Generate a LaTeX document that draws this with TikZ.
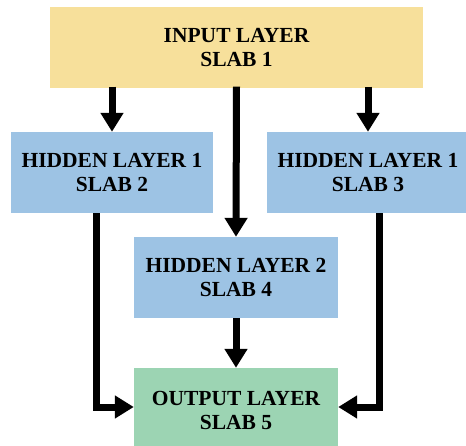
\documentclass[tikz,border=0pt]{standalone}
\usepackage{fontspec}
\setmainfont{Liberation Serif}
\usepackage{xcolor}
\usepackage{tikz}
\usetikzlibrary{arrows.meta,positioning}

\definecolor{slabyellow}{HTML}{F7E09B}
\definecolor{slabblue}{HTML}{9DC3E4}
\definecolor{slabgreen}{HTML}{9CD4B3}

\tikzset{
  slab/.style={minimum height=81pt, inner sep=0pt, align=center,
    font=\bfseries\fontsize{21.5}{24}\selectfont},
  link/.style={line width=7pt, -{Triangle[width=22pt,length=19pt]}}
}

\begin{document}
\begin{tikzpicture}[x=1pt,y=-1pt]
\useasboundingbox (0, 0) rectangle (466, 446);
\node[slab, fill=slabyellow, minimum width=373pt] (input) at (236.5, 48) {INPUT LAYER\\SLAB 1};
\node[slab, fill=slabblue, minimum width=202pt] (hidA) at (112, 172.5) {HIDDEN LAYER 1\\SLAB 2};
\node[slab, fill=slabblue, minimum width=202pt] (hidB) at (368, 172.5) {HIDDEN LAYER 1\\SLAB 3};
\node[slab, fill=slabblue, minimum width=204pt] (hidC) at (236, 277.5) {HIDDEN LAYER 2\\SLAB 4};
\node[slab, fill=slabgreen, minimum width=204pt, minimum height=84pt] (output) at (236, 410) {OUTPUT LAYER\\SLAB 5};
% arrows
\draw[link] ([yshift=2pt]hidA.north |- input.south) -- (hidA.north);
\draw[link] ([yshift=2pt]input.south) -- (hidC.north);
\draw[link] ([yshift=2pt]hidB.north |- input.south) -- (hidB.north);
\draw[link] (hidC.south) -- (output.north);
\draw[link] ([xshift=-16pt]hidA.south) |- ([yshift=3pt]output.west);
\draw[link] ([xshift=11pt]hidB.south) |- ([yshift=3pt]output.east);
\end{tikzpicture}
\end{document}
